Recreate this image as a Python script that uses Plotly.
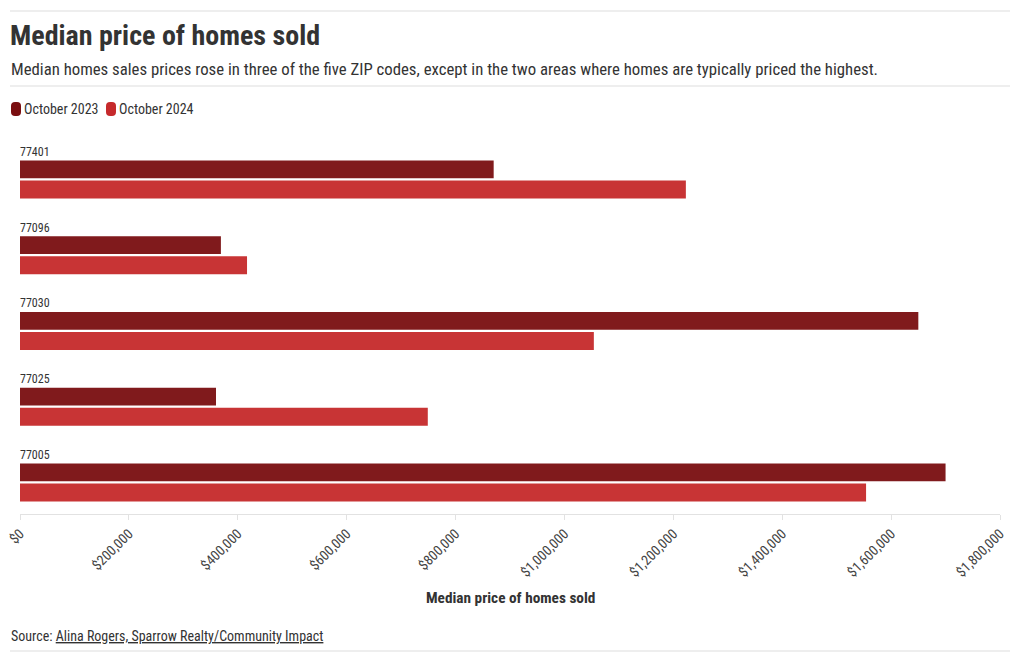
import plotly.graph_objects as go

zips = ["77401", "77096", "77030", "77025", "77005"]
oct_2023 = [870000, 369000, 1650000, 360000, 1700000]
oct_2024 = [1223000, 417000, 1054000, 749000, 1554000]
series_names = ["October 2023", "October 2024"]
tick_vals = [0, 200000, 400000, 600000, 800000, 1000000, 1200000, 1400000, 1600000, 1800000]

FONT = "Roboto Condensed, Liberation Sans Narrow, Roboto, sans-serif"
C1 = "#801a1c"
C2 = "#c83435"
TXT = "#333333"

W, H = 1020, 662
L, R, T, B = 20, 20, 140, 148
ph = H - T - B
pw = W - L - R

def py(p):  # pixel y -> paper y
    return (H - B - p) / ph

def px(p):  # pixel x -> paper x
    return (p - L) / pw

idx = list(range(len(zips)))

fig = go.Figure()
fig.add_trace(go.Bar(y=idx, x=oct_2023, orientation="h", name=series_names[0],
                     marker=dict(color=C1, line=dict(width=0)),
                     offset=-0.25, width=0.235, showlegend=False))
fig.add_trace(go.Bar(y=idx, x=oct_2024, orientation="h", name=series_names[1],
                     marker=dict(color=C2, line=dict(width=0)),
                     offset=0.015, width=0.235, showlegend=False))

annotations = []
for i, z in enumerate(zips):
    annotations.append(dict(x=0, y=i - 0.363, xref="x", yref="y", text=z,
                            showarrow=False, xanchor="left", yanchor="middle", xshift=-2,
                            font=dict(family=FONT, size=12, color=TXT)))

annotations += [
    dict(x=px(10), y=py(69), xref="paper", yref="paper", xanchor="left", yanchor="middle",
         showarrow=False, xshift=-1,
         text="Median homes sales prices rose in three of the five ZIP codes, except in the two areas where homes are typically priced the highest.",
         font=dict(family=FONT, size=16.75, color=TXT)),
    dict(x=px(510), y=py(598), xref="paper", yref="paper", xanchor="center", yanchor="middle",
         showarrow=False, text="<b>Median price of homes sold</b>",
         font=dict(family=FONT, size=15.3, color=TXT)),
    dict(x=px(10), y=py(636), xref="paper", yref="paper", xanchor="left", yanchor="middle",
         showarrow=False, xshift=-1,
         text="Source: <u>Alina Rogers, Sparrow Realty/Community Impact</u>",
         font=dict(family=FONT, size=14, color=TXT)),
    dict(x=px(23), y=py(109), xref="paper", yref="paper", xanchor="left", yanchor="middle",
         showarrow=False, xshift=-1, text=series_names[0],
         font=dict(family=FONT, size=14, color=TXT)),
    dict(x=px(118), y=py(109), xref="paper", yref="paper", xanchor="left", yanchor="middle",
         showarrow=False, xshift=-1, text=series_names[1],
         font=dict(family=FONT, size=14, color=TXT)),
]

def rounded_swatch(cx, cy, color):
    path = ("M -5 -3 Q -5 -7 -1 -7 L 1 -7 Q 5 -7 5 -3 L 5 3 Q 5 7 1 7 "
            "L -1 7 Q -5 7 -5 3 Z")
    return dict(type="path", xref="paper", yref="paper", xsizemode="pixel", ysizemode="pixel",
                xanchor=px(cx), yanchor=py(cy), path=path, fillcolor=color,
                line=dict(width=0))

shapes = []
for yy in (11, 86, 651):
    shapes.append(dict(type="line", xref="paper", yref="paper", x0=px(10), x1=px(1010),
                       y0=py(yy), y1=py(yy), line=dict(color="#dddddd", width=1)))
shapes.append(rounded_swatch(16, 109, "#7a0e10"))
shapes.append(rounded_swatch(111, 109, "#c62a2c"))

fig.update_layout(
    width=W, height=H,
    margin=dict(l=L, r=R, t=T, b=B, autoexpand=False),
    paper_bgcolor="white", plot_bgcolor="white",
    font=dict(family=FONT, color=TXT),
    title=dict(text="<b>Median price of homes sold</b>", xref="container", yref="container",
               x=10 / W, xanchor="left", y=1 - 35 / H, yanchor="middle",
               font=dict(family=FONT, size=28, color=TXT)),
    barmode="overlay",
    xaxis=dict(range=[0, 1800000], tickvals=tick_vals, tickformat="$,.0f",
               tickangle=-45, showgrid=False, zeroline=False, showline=True,
               linecolor="#e2e2e2", linewidth=1, ticks="outside", ticklen=5,
               tickcolor="#e2e2e2", tickfont=dict(family=FONT, size=14, color="#444444"),
               fixedrange=True, automargin=False),
    yaxis=dict(range=[4.416, -0.521], showticklabels=False, showgrid=False,
               zeroline=False, showline=False, ticks="", fixedrange=True, automargin=False),
    annotations=annotations,
    shapes=shapes,
    showlegend=False,
)

fig.write_html("out.html", config={"displayModeBar": False},
               post_script="document.body.style.margin='0';document.body.style.padding='0';")
